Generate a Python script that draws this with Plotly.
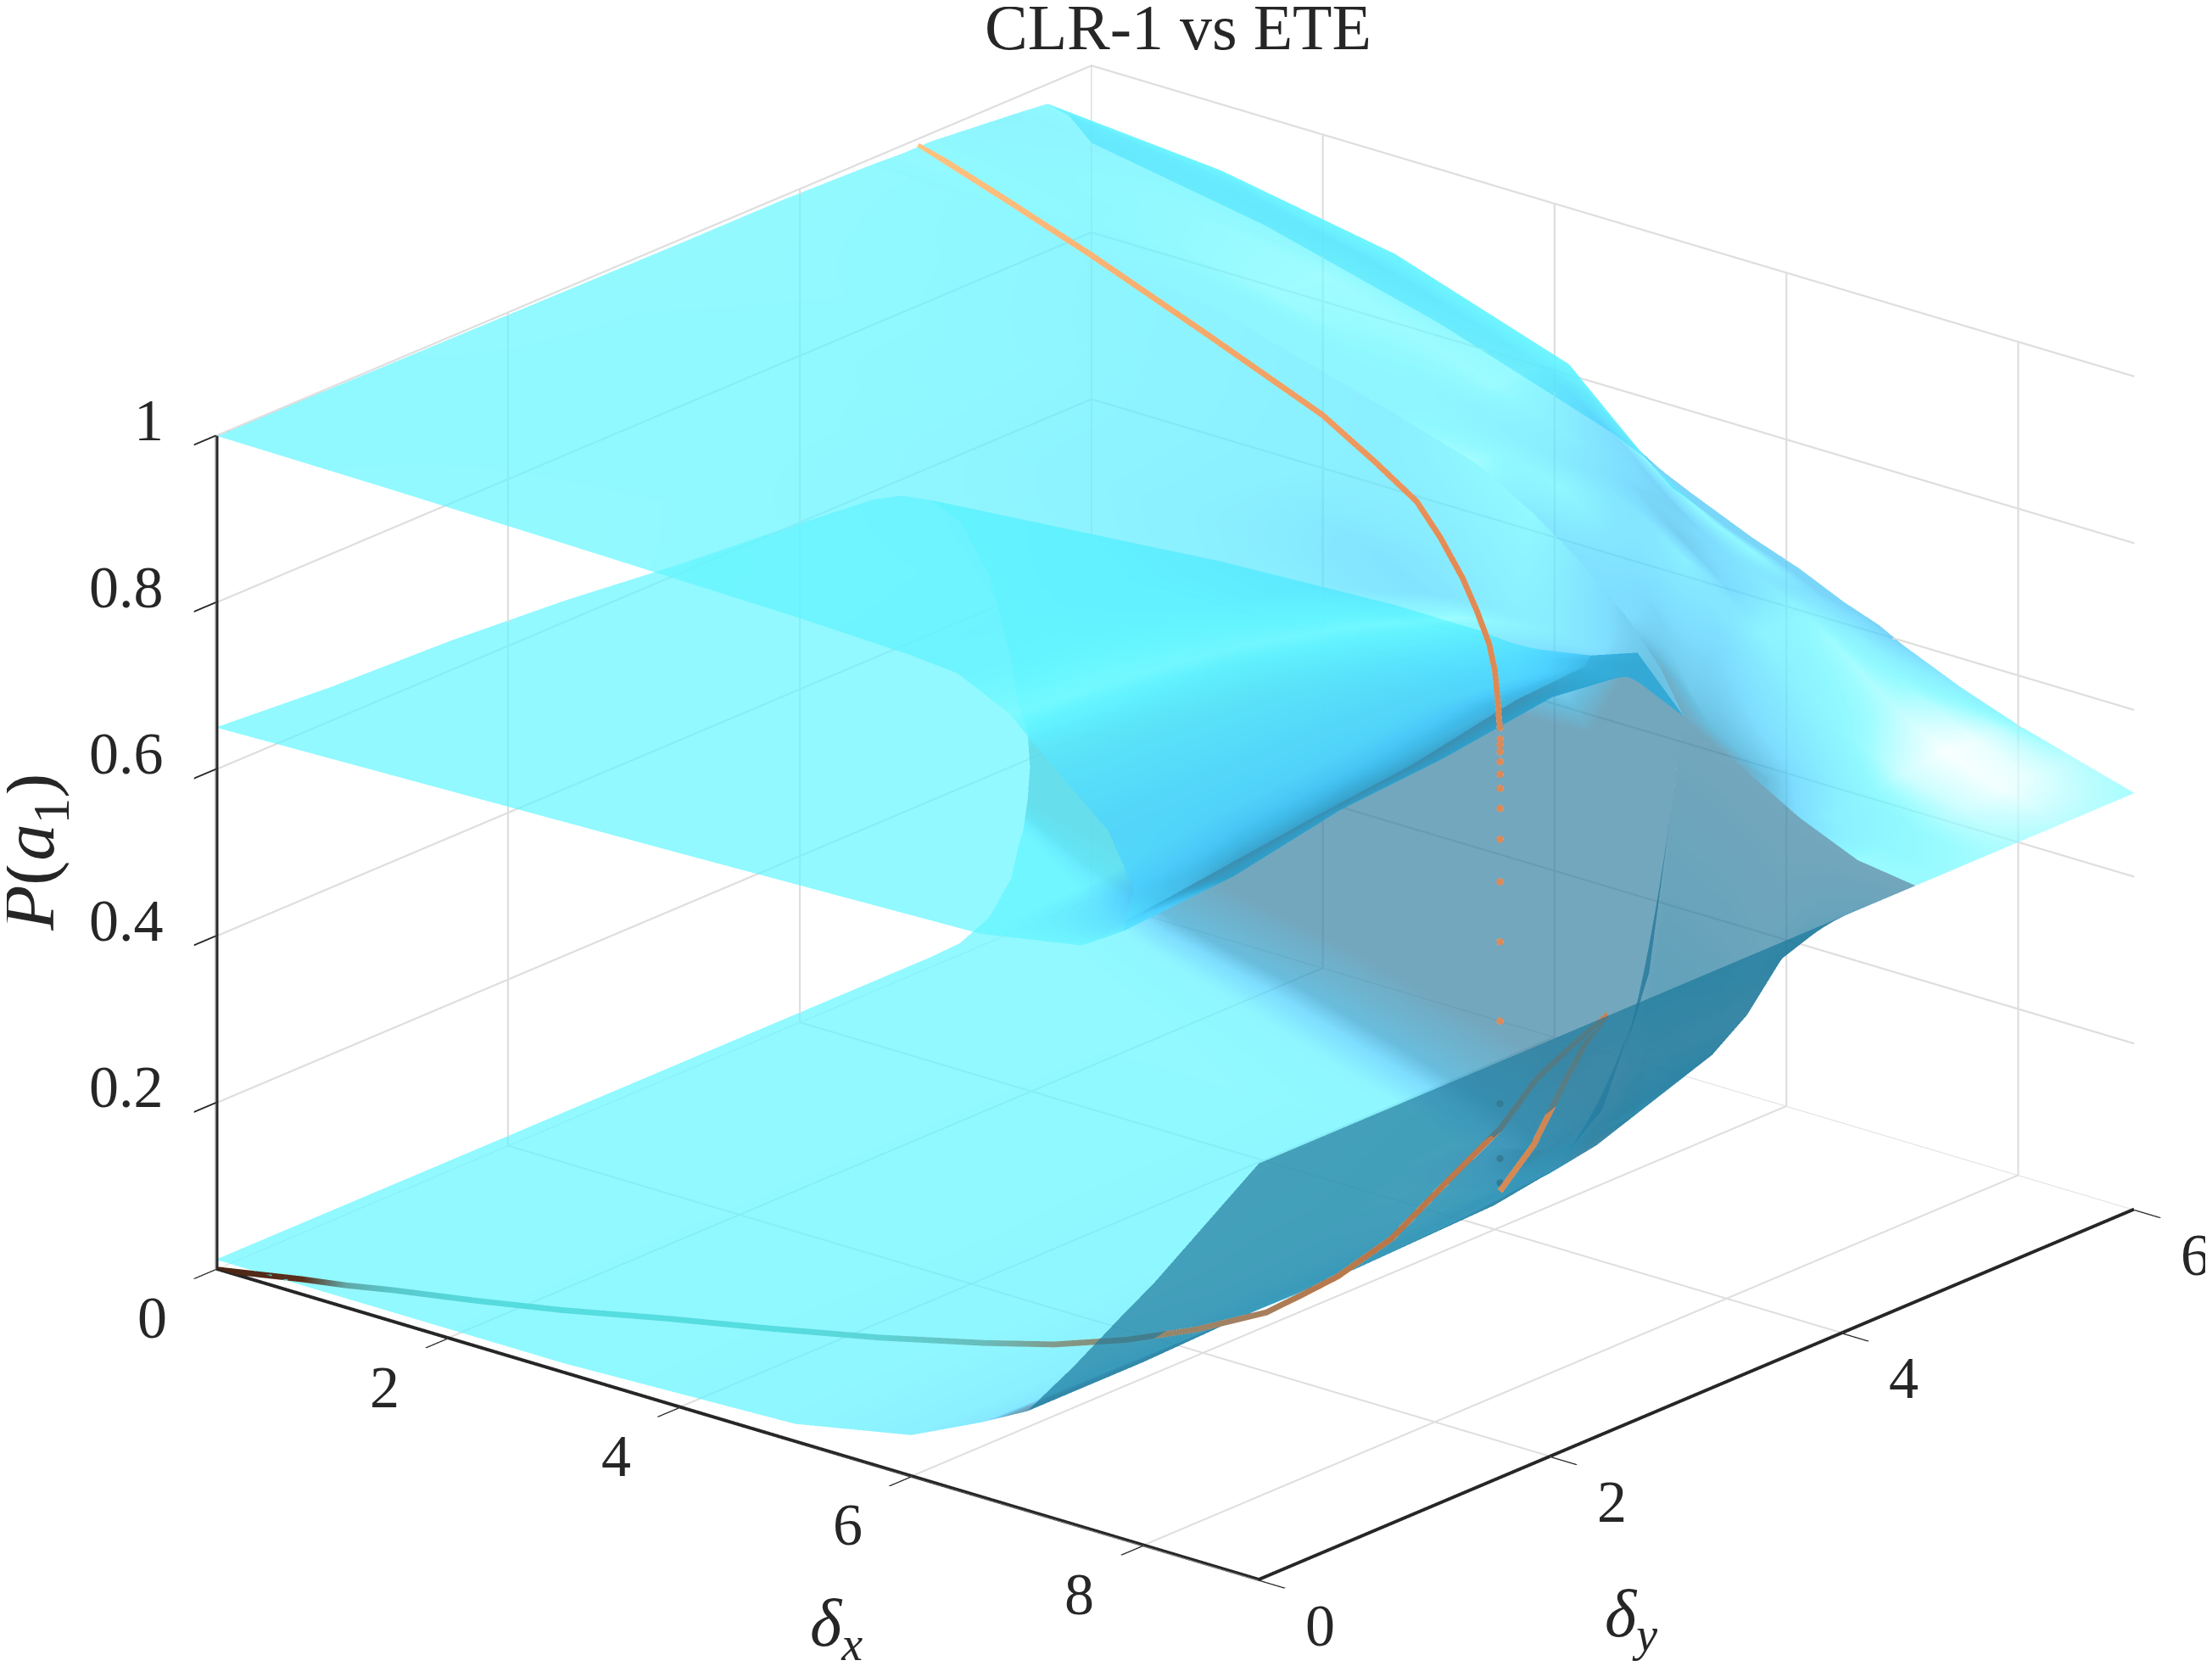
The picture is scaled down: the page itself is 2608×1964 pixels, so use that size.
import numpy as np
import plotly.graph_objects as go

TITLE = "CLR-1 vs ETE"
X_TICKS = [0, 2, 4, 6, 8]
Y_TICKS = [0, 2, 4, 6]
Z_TICKS = [0.2, 0.4, 0.6, 0.8, 1]

# upper + fold + middle sheet, sections at constant delta_y
FOLD_FRONT_Y = [0, 0.8, 1.6, 2.4, 3.2, 3.9, 4.5]
FOLD_FRONT_X = [
    [0, 1.5, 3, 5, 6, 6.4, 6.85, 7.2, 7.7, 7.92, 7.83, 7.47, 6.6, 4, 0],
    [0, 1.5, 3, 5, 6, 6.4, 6.85, 7.2, 7.6, 7.85, 7.78, 7.42, 6.6, 4, 0],
    [0, 1.5, 3, 5, 6, 6.4, 6.8, 7.15, 7.5, 7.72, 7.68, 7.35, 6.5, 4, 0],
    [0, 1.5, 3, 5, 6, 6.4, 6.8, 7.1, 7.4, 7.6, 7.58, 7.3, 6.5, 4, 0],
    [0, 1.5, 3, 5, 6, 6.4, 6.75, 7.05, 7.3, 7.5, 7.5, 7.2, 6.4, 4, 0],
    [0, 1.5, 3, 5, 5.8, 6.3, 6.7, 7, 7.2, 7.3, 7.2, 6.9, 6.3, 4, 0],
    [0, 1.5, 3, 4.5, 5.2, 5.7, 6.1, 6.5, 6.8, 7.0, 6.6, 6.2, 5.6, 3.5, 0],
]
FOLD_FRONT_Z = [
    [1, .998, .995, .99, .985, .98, .95, .905, .845, .785, .73, .698, .676, .665, .65],
    [.998, .997, .995, .985, .975, .96, .935, .895, .835, .78, .735, .71, .68, .66, .64],
    [.997, .995, .99, .975, .955, .94, .91, .875, .825, .785, .75, .72, .69, .655, .635],
    [.996, .992, .985, .955, .925, .905, .875, .845, .81, .78, .75, .73, .70, .65, .625],
    [.995, .988, .975, .92, .87, .84, .825, .815, .80, .78, .76, .745, .70, .645, .61],
    [.995, .985, .96, .89, .80, .77, .755, .745, .735, .725, .72, .72, .68, .635, .60],
    [.992, .975, .94, .88, .85, .81, .77, .72, .67, .62, .68, .66, .645, .625, .59],
]
# colour position of fold columns 6..11, from streak to the dark rim
FOLD_FRONT_TONE = [.90, .80, .72, .68, .60, .50]
FOLD_EDGE_TONE = [.72, .80, .875]
FLAT_TONE = .875
GRAY_TONE = .50
RIM_TONE = .68
SADDLE_TONE = .62

# lower sheet and its rising wall
LOW_Y = [0, 0.8, 1.6, 2.4, 3.2, 3.9, 4.5]
LOW_X = [
    [0, 3, 5, 6, 6.6, 7, 7.4, 7.8, 8.1, 8.5, 9],
    [0, 3, 5, 6, 6.6, 7, 7.4, 7.8, 8.1, 8.5, 9],
    [0, 3, 5, 6, 6.6, 7, 7.4, 7.8, 8.1, 8.5, 9],
    [0, 3, 5, 6, 6.6, 7, 7.4, 7.8, 8.1, 8.5, 9],
    [0, 3, 5, 6, 6.6, 7, 7.4, 7.8, 8.1, 8.5, 9],
    [0, 3, 5, 6, 6.6, 7, 7.4, 8, 8.3, 8.6, 9],
    [0, 3, 5, 5.8, 6.3, 6.7, 7.0, 7.5, 8, 8.5, 9],
]
LOW_Z = [
    [.012, .012, .022, .05, .09, .12, .19, .265, .32, .40, .5],
    [.012, .012, .022, .05, .088, .12, .185, .265, .32, .40, .5],
    [.012, .012, .022, .048, .085, .125, .19, .27, .33, .41, .5],
    [.012, .012, .022, .047, .083, .125, .19, .28, .34, .42, .5],
    [.012, .012, .022, .05, .09, .13, .2, .27, .34, .43, .5],
    [.012, .012, .022, .05, .10, .15, .21, .30, .36, .44, .5],
    [.012, .012, .022, .05, .12, .30, .62, .58, .54, .51, .5],
]

# far part of the upper sheet down to the plateau at 0.5
TOP_Y = [4.5, 4.7, 4.9, 5.2, 5.5, 5.7, 5.85, 6]
TOP_X = [0, 1.5, 3, 4.5, 5.2, 5.7, 6.1, 6.5, 6.8, 7.0, 7.5, 8, 8.5, 9]
TOP_Z = [
    [.992, .975, .94, .88, .85, .81, .77, .72, .67, .62, .58, .54, .51, .5],
    [.99, .972, .935, .875, .85, .825, .79, .71, .63, .59, .55, .525, .51, .5],
    [.99, .97, .93, .87, .84, .82, .80, .76, .68, .61, .56, .535, .515, .5],
    [.985, .965, .935, .86, .825, .79, .745, .70, .66, .625, .57, .54, .52, .5],
    [.98, .965, .93, .865, .80, .74, .705, .68, .66, .64, .585, .545, .52, .5],
    [.976, .958, .92, .85, .76, .715, .69, .665, .645, .63, .58, .545, .52, .5],
    [.95, .925, .87, .80, .72, .69, .67, .645, .63, .615, .575, .545, .52, .5],
    [.907, .87, .815, .745, .70, .67, .65, .625, .61, .595, .565, .54, .52, .5],
]

# far fold between the middle and the lower sheet
FOLD_BACK_Y = [4.5, 4.7, 4.9, 5.1, 5.3, 5.45, 5.5]
FOLD_BACK_X = [
    [0, 3.5, 5.6, 6.2, 6.6, 7.0, 6.7, 6.3, 5.8, 5, 3, 0],
    [0, 3, 5, 5.6, 5.95, 6.15, 5.95, 5.6, 5.1, 4.4, 2.5, 0],
    [0, 2.5, 4, 4.6, 4.95, 5.1, 4.9, 4.6, 4.1, 3.4, 2, 0],
    [0, 2, 3, 3.5, 3.75, 3.85, 3.7, 3.4, 3, 2.4, 1.3, 0],
    [0, 1, 1.7, 2, 2.2, 2.25, 2.15, 1.95, 1.65, 1.25, .6, 0],
    [0, .4, .7, .85, .92, .95, .9, .8, .65, .45, .2, 0],
    [0, .03, .06, .08, .09, .1, .09, .08, .06, .04, .02, 0],
]
FOLD_BACK_Z = [
    [.59, .625, .645, .66, .68, .62, .30, .12, .05, .022, .012, .012],
    [.58, .61, .625, .60, .54, .43, .27, .14, .06, .025, .012, .012],
    [.56, .59, .60, .57, .51, .40, .26, .14, .07, .03, .014, .012],
    [.52, .55, .555, .53, .47, .38, .26, .15, .08, .04, .02, .014],
    [.44, .46, .46, .44, .39, .32, .24, .16, .09, .055, .035, .03],
    [.33, .335, .33, .31, .28, .24, .20, .15, .11, .09, .07, .065],
    [.27, .26, .25, .24, .22, .20, .18, .16, .14, .12, .11, .10],
]
FOLD_BACK_TONE = [.875, .875, .875, .72, .50, .50, .50, .50, .60, .86, .875, .875]

# learning trajectories
PATH_TOP_X = [.02, .87, 1.71, 2.87, 4.01, 4.56, 5.01, 5.28, 5.57, 5.77, 5.95, 6.05, 6.11, 6.17]
PATH_TOP_Y = [4.8, 4.72, 4.64, 4.52, 4.4, 4.32, 4.25, 4.2, 4.12, 4.06, 4, 3.96, 3.93, 3.9]
PATH_TOP_Z = [.995, .97, .944, .905, .865, .838, .814, .785, .755, .728, .701, .676, .65, .613]
PATH_TOP_COLOR = ["#FFC27F", "#FDBC7B", "#FAB474", "#F5A869", "#F09C62", "#EC965C", "#EA9159", "#E68C56",
                  "#E38B55", "#E08A55", "#DE8A55", "#DC8A55", "#DA8954", "#D98853"]

DROP_Z = [.603, .596, .588, .576, .561, .544, .52, .483, .432, .36, .265, .166, .10, .071]
DROP_X = [6.17] * len(DROP_Z)
DROP_Y = [3.9] * len(DROP_Z)
DROP_COLOR = ["#DB8A5A"] * 11 + ["#5F7F8C"] * 3

PATH_LOW_X = [6.17, 6.27, 6.36, 6.4, 6.51, 6.4, 6.36, 6.3, 6.25, 6.24, 6.22, 6.16, 6.13, 5.88, 5.59, 5.22,
              4.87, 4.21, 3.55, 2.9, 2.26, 1.73, 1.21, .90, .59, 0]
PATH_LOW_Y = [3.9, 4.05, 4.2, 4.3, 4.37, 4.2, 4.0, 3.8, 3.5, 3.1, 2.75, 2.55, 2.33, 2.05, 1.8, 1.6,
              1.4, 1.2, 1.0, .8, .58, .42, .25, .18, .12, 0]
PATH_LOW_Z = [.061, .109, .18, .217, .252, .221, .196, .149, .11, .066, .046, .036, .03, .02, .014, .008,
              .01, .004, .002, .002, .002, .003, .007, .005, .004, 0]
PATH_LOW_COLOR = ["#D88B55", "#D28650", "#CF8450", "#CB8150", "#C97F50", "#C97F50", "#C67D4E", "#C27A4C", "#BE784A",
                  "#BA7646", "#B87A4C", "#B27A50", "#A87E5C", "#9A8468", "#8F8A70", "#7F9A8A",
                  "#68BCBC", "#5CD4D6", "#55DDE0", "#55DDE0", "#55DDE0", "#55DBDE", "#58C8CC", "#60A8A8", "#5B2F1A",
                  "#4A2414"]

BOX = dict(x=1, y=1, z=0.655)
ZOOM = 1.669
RANGES = dict(x=[0, 9], y=[0, 6], z=[0, 1])
VIEW = np.array([0.601, -0.716, 0.355])
ALPHA = 0.7
PX = 1608.0   # screen pixels per unit of box width

COLORSCALE = [
    [0.00, "rgb(70,200,225)"],
    [0.20, "rgb(40,150,190)"],
    [0.32, "rgb(25,120,155)"],
    [0.50, "rgb(55,128,160)"],
    [0.60, "rgb(40,160,205)"],
    [0.70, "rgb(70,205,255)"],
    [0.875, "rgb(96,245,255)"],
    [0.90, "rgb(115,250,255)"],
    [1.00, "rgb(255,255,255)"],
]


def shade(X, Y, Z):
    P = np.stack([X / 9.0, Y / 6.0, Z * BOX["z"]], axis=-1)
    du = np.gradient(P, axis=0)
    dv = np.gradient(P, axis=1)
    n = np.cross(du, dv)
    n /= np.maximum(np.linalg.norm(n, axis=-1, keepdims=True), 1e-9)
    s = np.sign(n @ VIEW)
    s[s == 0] = 1
    m = n * s[..., None]
    t = 0.35 * m[..., 0] + 0.75 * m[..., 2] - 0.9 * np.abs(m[..., 1])
    return (np.clip(t, -1, 1) + 1) / 2


def sheet(X, Y, Z, tone):
    return go.Surface(
        x=X, y=Y, z=Z, surfacecolor=tone, cmin=0, cmax=1,
        colorscale=COLORSCALE, showscale=False, opacity=ALPHA,
        hoverinfo="skip",
        lighting=dict(ambient=1, diffuse=0, specular=0, fresnel=0, roughness=1),
    )


def rows_of(ys, n):
    return np.repeat(np.array(ys, float)[:, None], n, axis=1)


def ribbon(xs, ys, zs, colors, width, lift=0.0):
    """Draw a thick polyline as a camera-facing strip."""
    P = np.stack([np.array(xs, float) / 9.0, np.array(ys, float) / 6.0, np.array(zs, float) * BOX["z"]], axis=-1)
    room = 0.8 * np.minimum(P[:, 1] / 0.716, (BOX["z"] - P[:, 2]) / 0.355)
    P = P + VIEW[None, :] * np.minimum(lift, room)[:, None]
    tan = np.gradient(P, axis=0)
    side = np.cross(tan, VIEW)
    side /= np.maximum(np.linalg.norm(side, axis=1, keepdims=True), 1e-9)
    half = side * width / 2.0 / PX
    A, B = P - half, P + half
    V = np.empty((len(P) * 2, 3))
    V[0::2], V[1::2] = A, B
    n = len(P) - 1
    i = np.arange(n) * 2
    vc = [c for c in colors for _ in (0, 1)]
    return go.Mesh3d(
        x=V[:, 0] * 9.0, y=V[:, 1] * 6.0, z=V[:, 2] / BOX["z"],
        i=np.concatenate([i, i + 1]), j=np.concatenate([i + 1, i + 3]), k=np.concatenate([i + 2, i + 2]),
        vertexcolor=vc, flatshading=False, hoverinfo="skip", showscale=False,
        lighting=dict(ambient=1, diffuse=0, specular=0, fresnel=0, roughness=1),
    )


fig = go.Figure()

# grid and axis lines, thick as in the figure
GRID = "#DEDEDE"
INK = "#262626"
for v in X_TICKS[1:]:
    fig.add_trace(ribbon([v, v], [0, 6], [0, 0], [GRID] * 2, 3))
    fig.add_trace(ribbon([v, v], [6, 6], [0, 1], [GRID] * 2, 3))
for v in Y_TICKS[1:]:
    fig.add_trace(ribbon([0, 9], [v, v], [0, 0], [GRID] * 2, 3))
    fig.add_trace(ribbon([0, 0], [v, v], [0, 1], [GRID] * 2, 3))
for v in Z_TICKS:
    fig.add_trace(ribbon([0, 0], [0, 6], [v, v], [GRID] * 2, 3))
    fig.add_trace(ribbon([0, 9], [6, 6], [v, v], [GRID] * 2, 3))
fig.add_trace(ribbon([0, 0], [0, 6], [0, 0], [GRID] * 2, 3))
fig.add_trace(ribbon([0, 0], [6, 6], [0, 1], ["#C8C8C8"] * 2, 3))
fig.add_trace(ribbon([0, 9], [0, 0], [0, 0], [INK] * 2, 6))
fig.add_trace(ribbon([9, 9], [0, 6], [0, 0], [INK] * 2, 6))
fig.add_trace(ribbon([0, 0], [0, 0], [0, 1], [INK] * 2, 6))

# tones for each sheet
Xa, Ya, Za = np.array(LOW_X, float), rows_of(LOW_Y, 11), np.array(LOW_Z, float)
Ta = shade(Xa, Ya, Za)
Ta[-1, 3:] = GRAY_TONE

Xb, Yb, Zb = np.array(FOLD_BACK_X, float), rows_of(FOLD_BACK_Y, 12), np.array(FOLD_BACK_Z, float)
Tb = np.tile(np.array(FOLD_BACK_TONE), (len(FOLD_BACK_Y), 1))

Xc, Yc, Zc = np.array(FOLD_FRONT_X, float), rows_of(FOLD_FRONT_Y, 15), np.array(FOLD_FRONT_Z, float)
Tc = shade(Xc, Yc, Zc)
base_c = Tc.copy()
Tc[:, 6:12] = np.array(FOLD_FRONT_TONE)
Tc[:, 12:] = FLAT_TONE
Tc[0, 9:12] = np.array(FOLD_EDGE_TONE)
Tc[-2:, 3:8] = base_c[-2:, 3:8]
Tc[-2:, 8:12] = SADDLE_TONE

Xd = np.tile(np.array(TOP_X, float), (len(TOP_Y), 1))
Yd, Zd = rows_of(TOP_Y, len(TOP_X)), np.array(TOP_Z, float)
Td = shade(Xd, Yd, Zd)
Td[5, :7] = FLAT_TONE
Td[6:, :8] = RIM_TONE
gray = np.exp(-((Xd - 7.2) / 0.7) ** 2 - ((Yd - 4.5) / 0.4) ** 2)
Td = Td * (1 - gray) + GRAY_TONE * gray
glow = np.exp(-((Xd - 8.2) / 0.7) ** 2 - ((Yd - 5.5) / 0.45) ** 2)
Td = Td * (1 - glow) + glow


def part(X, Y, Z, T, rows=slice(None), cols=slice(None)):
    return sheet(X[rows][:, cols], Y[rows][:, cols], Z[rows][:, cols], T[rows][:, cols])


# drawn from the far pieces to the near ones so that the blending reads correctly
fig.add_trace(part(Xa, Ya, Za, Ta, cols=slice(0, 5)))        # lower flat sheet
fig.add_trace(part(Xb, Yb, Zb, Tb, cols=slice(3, 12)))       # far fold wall
fig.add_trace(part(Xb, Yb, Zb, Tb, cols=slice(0, 4)))        # middle sheet, far part
fig.add_trace(part(Xc, Yc, Zc, Tc, cols=slice(11, 15)))      # middle sheet
fig.add_trace(part(Xc, Yc, Zc, Tc, cols=slice(6, 12)))       # near fold wall
fig.add_trace(part(Xd, Yd, Zd, Td, rows=slice(5, 8)))        # far rim of the upper sheet
fig.add_trace(part(Xd, Yd, Zd, Td, rows=slice(0, 6)))        # plateau and far upper sheet
fig.add_trace(part(Xc, Yc, Zc, Tc, cols=slice(0, 7)))        # upper sheet
fig.add_trace(part(Xa, Ya, Za, Ta, cols=slice(4, 11)))       # lower rising wall

fig.add_trace(ribbon(PATH_TOP_X, PATH_TOP_Y, PATH_TOP_Z, PATH_TOP_COLOR, 7, lift=0.3))
fig.add_trace(ribbon(PATH_LOW_X, PATH_LOW_Y, PATH_LOW_Z, PATH_LOW_COLOR, 7, lift=0.3))
LIFT = 0.1
fig.add_trace(go.Scatter3d(x=np.array(DROP_X) + 9 * 0.601 * LIFT, y=np.array(DROP_Y) - 6 * 0.716 * LIFT,
                           z=np.array(DROP_Z) + 0.355 / BOX["z"] * LIFT, mode="markers",
                           marker=dict(color=DROP_COLOR, size=5), hoverinfo="skip", showlegend=False))

FONT = "Liberation Serif"
TICKFONT = dict(family=FONT, size=70, color=INK)
LABELFONT = dict(family=FONT, size=80, color=INK)


def axis(rng, vals):
    return dict(range=rng, autorange=False, tickmode="array", tickvals=vals,
                ticktext=[str(v) for v in vals], showticklabels=False, title=dict(text=""),
                showgrid=True, gridcolor=GRID, gridwidth=3,
                showline=True, linecolor=INK, linewidth=4,
                ticks="outside", ticklen=40, tickcolor=INK, tickwidth=4,
                showbackground=False, zeroline=False, showspikes=False)


annots = []
for v in X_TICKS:
    annots.append(dict(x=v, y=0, z=0, text=str(v), showarrow=False, font=TICKFONT, xshift=-75, yshift=-57))
for v in Y_TICKS:
    annots.append(dict(x=9, y=v, z=0, text=str(v), showarrow=False, font=TICKFONT, xshift=72, yshift=-53))
for v in Z_TICKS:
    annots.append(dict(x=0, y=0, z=v, text=str(v), showarrow=False, font=TICKFONT, xanchor="right", xshift=-60, yshift=18))
annots.append(dict(x=5.5, y=0, z=0, text="<i>δ</i><sub><i>x</i></sub>", showarrow=False,
                   font=LABELFONT, xshift=-20, yshift=-198))
annots.append(dict(x=9, y=2, z=0, text="<i>δ</i><sub><i>y</i></sub>", showarrow=False,
                   font=LABELFONT, xshift=95, yshift=-190))
annots.append(dict(x=0, y=0, z=0.5, text="<i>P</i>(<i>a</i><sub>1</sub>)", showarrow=False, textangle=-90,
                   font=dict(family=FONT, size=87, color=INK), xshift=-216))

fig.update_layout(
    width=2608, height=1964, paper_bgcolor="white", showlegend=False,
    margin=dict(l=0, r=0, t=0, b=0),
    title=dict(text=TITLE, font=dict(family=FONT, size=76, color=INK), x=0.5295, xanchor="center",
               y=0.988, yanchor="middle"),
    scene=dict(
        domain=dict(x=[0.0565, 1], y=[0.0204, 1]),
        aspectmode="manual", aspectratio=dict(x=BOX["x"] * ZOOM, y=BOX["y"] * ZOOM, z=BOX["z"] * ZOOM),
        camera=dict(projection=dict(type="orthographic"), up=dict(x=0, y=0, z=1),
                    center=dict(x=0, y=0, z=0),
                    eye=dict(x=float(VIEW[0]) * 2.2, y=float(VIEW[1]) * 2.2, z=float(VIEW[2]) * 2.2)),
        xaxis=axis(RANGES["x"], X_TICKS), yaxis=axis(RANGES["y"], Y_TICKS), zaxis=axis(RANGES["z"], Z_TICKS),
        annotations=annots,
    ),
)
fig.write_html("out.html")
